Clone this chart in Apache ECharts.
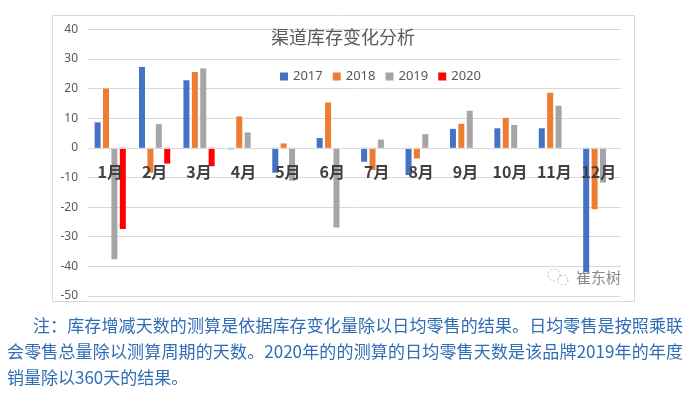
<!DOCTYPE html>
<html>
<head>
<meta charset="utf-8">
<script src="https://cdn.jsdelivr.net/npm/echarts@6/dist/echarts.min.js"></script>
<style>
  html, body { margin: 0; padding: 0; background: #ffffff; }
  #wrap { position: relative; width: 690px; height: 393px; overflow: hidden; }
  #chart { position: absolute; left: 0; top: 0; width: 690px; height: 393px; }
  .note { position: absolute; white-space: nowrap; font-family: "Noto Sans CJK SC", "Noto Sans", sans-serif;
          font-size: 17px; line-height: 20px; color: #2F6DB5; }
  .just { text-align: justify; text-align-last: justify; }
</style>
</head>
<body>
<div id="wrap">
  <div id="chart"></div>
  <div class="note just" style="left:33px; top:315px; width:650px;">注：库存增减天数的测算是依据库存变化量除以日均零售的结果。日均零售是按照乘联</div>
  <div class="note just" style="left:7px; top:341px; width:676px;">会零售总量除以测算周期的天数。2020年的的测算的日均零售天数是该品牌2019年的年度</div>
  <div class="note" style="left:7px; top:367px;">销量除以360天的结果。</div>
</div>
<script>
const titleText = '渠道库存变化分析';
const months = ['1月','2月','3月','4月','5月','6月','7月','8月','9月','10月','11月','12月'];
const seriesNames = ['2017','2018','2019','2020'];
const v2017 = [8.6, 27.3, 22.8, -0.5, -8.4, 3.3, -4.7, -9.2, 6.4, 6.6, 6.6, -42];
const v2018 = [20.0, -8.4, 25.6, 10.6, 1.5, 15.3, -7.5, -3.6, 8.1, 10.1, 18.6, -20.7];
const v2019 = [-37.6, 8.0, 26.8, 5.2, -11.1, -26.9, 2.8, 4.6, 12.5, 7.7, 14.2, -11.7];
const v2020 = [-27.4, -5.3, -6.2, null, null, null, null, null, null, null, null, null];
const yTicks = { min: -50, max: 40, interval: 10 };
const watermark = '崔东树';

const colors = ['#4472C4', '#ED7D31', '#A5A5A5', '#FF0000'];
const allValues = [v2017, v2018, v2019, v2020];

const gridTop = 29.3, gridBottom = 97, H = 393;
const gridH = H - gridTop - gridBottom;
const zeroOffset = -gridH * (0 - yTicks.min) / (yTicks.max - yTicks.min);

const chart = echarts.init(document.getElementById('chart'), null, { renderer: 'canvas' });
chart.setOption({
  animation: false,
  backgroundColor: '#ffffff',
  color: colors,
  title: {
    text: titleText, left: 271, top: 28, padding: 0,
    textStyle: { fontSize: 18, fontWeight: 'normal', color: '#595959', fontFamily: 'Noto Sans CJK SC' }
  },
  legend: {
    left: 280, top: 70, padding: 0, itemWidth: 8, itemHeight: 8, itemGap: 10, icon: 'rect',
    textStyle: { fontSize: 13, color: '#595959', fontFamily: 'Noto Sans' },
    data: seriesNames
  },
  grid: { left: 88, right: 69, top: gridTop, bottom: gridBottom, containLabel: false },
  xAxis: {
    type: 'category', data: months, position: 'bottom', offset: zeroOffset, z: 5,
    axisLine: { onZero: false, lineStyle: { color: '#D9D9D9', width: 1 } },
    axisTick: { show: false },
    axisLabel: { interval: 0, margin: 16, fontSize: 16, fontWeight: 'bold', color: '#404040', fontFamily: 'Noto Sans CJK SC' },
    splitLine: { show: false }
  },
  yAxis: {
    type: 'value', min: yTicks.min, max: yTicks.max, interval: yTicks.interval,
    axisLine: { show: false }, axisTick: { show: false },
    axisLabel: { margin: 10, fontSize: 12, color: '#595959', fontFamily: 'Noto Sans' },
    splitLine: { lineStyle: { color: '#D9D9D9', width: 1 } }
  },
  series: seriesNames.map((n, i) => ({
    name: n, type: 'bar', data: allValues[i], barWidth: 6, barGap: '40%'
  })),
  graphic: [
    { type: 'rect', shape: { x: 52.5, y: 15.5, width: 582, height: 286 }, silent: true, z: -1,
      style: { fill: 'none', stroke: '#D9D9D9', lineWidth: 1 } },
    { type: 'circle', shape: { cx: 554, cy: 275, r: 6 }, z: 10,
      style: { fill: 'none', stroke: '#BBBBBB', lineWidth: 1, lineDash: [2, 2] } },
    { type: 'circle', shape: { cx: 563, cy: 280, r: 5 }, z: 10,
      style: { fill: 'none', stroke: '#BBBBBB', lineWidth: 1, lineDash: [2, 2] } },
    { type: 'text', x: 576, y: 277, z: 10,
      style: { text: watermark, fontSize: 15, fill: '#888888', verticalAlign: 'middle', fontFamily: 'Noto Sans CJK SC' } }
  ]
});
</script>
</body>
</html>
